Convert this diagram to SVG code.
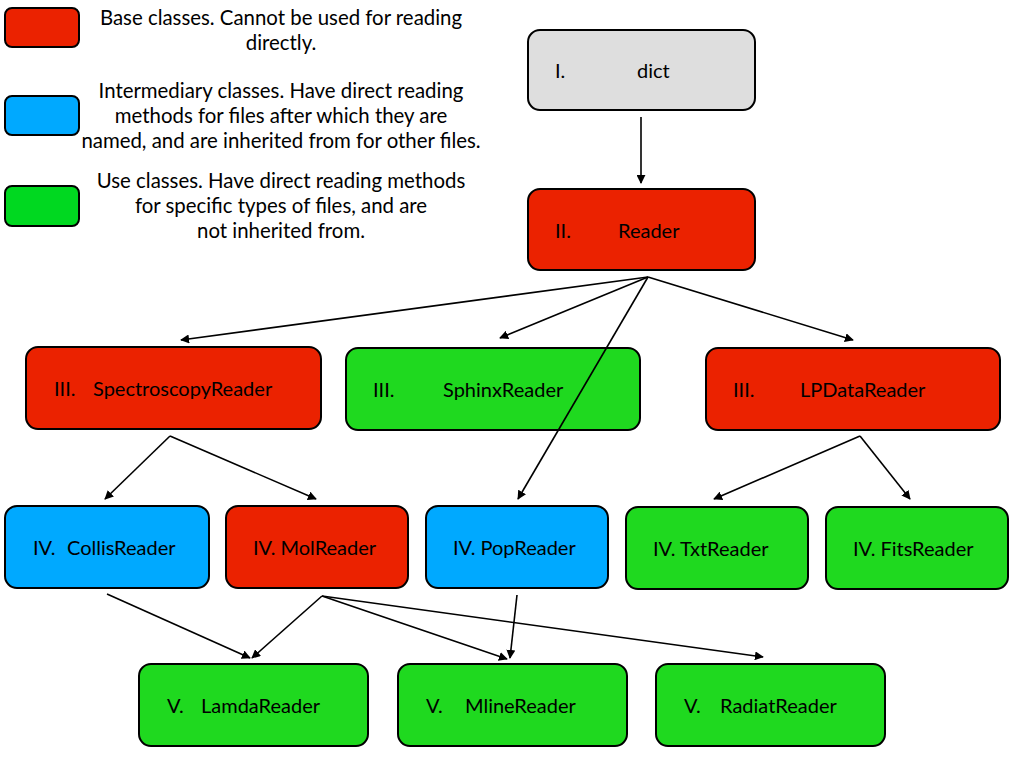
<svg xmlns="http://www.w3.org/2000/svg" width="1024" height="768" viewBox="0 0 1024 768">
<defs>
<style>
text{font-family:"Lato","Open Sans","DejaVu Sans",sans-serif;font-size:20px;fill:#000}
.lg{text-anchor:middle;font-size:20.4px}
.box{stroke:#000;stroke-width:2}
.red{fill:#EB2200}
.blue{fill:#00A9FF}
.green{fill:#1FD91F}
.lgreen{fill:#00D820}
.gray{fill:#DEDEDE}
.conn line{stroke:#000;stroke-width:1.6;marker-end:url(#ah)}
</style>
<marker id="ah" viewBox="0 0 10 10" refX="9" refY="5" markerWidth="9" markerHeight="9" orient="auto" markerUnits="userSpaceOnUse">
<path d="M0,0 L10,5 L0,10 z" fill="#000"/>
</marker>
</defs>
<rect width="1024" height="768" fill="#fff"/>
<g id="legend">
<rect class="box red" x="5" y="8" width="74" height="39" rx="7"/>
<rect class="box blue" x="5" y="96" width="74" height="39" rx="7"/>
<rect class="box lgreen" x="5" y="186" width="74" height="40" rx="7"/>
<text class="lg" x="281" y="25">Base classes. Cannot be used for reading</text>
<text class="lg" x="281" y="50">directly.</text>
<text class="lg" x="281" y="98">Intermediary classes. Have direct reading</text>
<text class="lg" x="281" y="123">methods for files after which they are</text>
<text class="lg" x="281" y="148">named, and are inherited from for other files.</text>
<text class="lg" x="281" y="188">Use classes. Have direct reading methods</text>
<text class="lg" x="281" y="213">for specific types of files, and are</text>
<text class="lg" x="281" y="238">not inherited from.</text>
</g>
<g id="n-dict"><rect class="box gray" x="528" y="30" width="227" height="80" rx="12"/><text x="555" y="78">I.</text><text x="637" y="78">dict</text></g>
<g id="n-reader"><rect class="box red" x="528" y="189" width="227" height="81" rx="12"/><text x="555" y="238">II.</text><text x="618" y="238">Reader</text></g>
<g id="n-spectroscopy"><rect class="box red" x="26" y="347" width="295" height="82" rx="12"/><text x="54" y="396">III.</text><text x="93" y="396">SpectroscopyReader</text></g>
<g id="n-sphinx"><rect class="box green" x="346" y="348" width="294" height="82" rx="12"/><text x="373" y="397">III.</text><text x="443" y="397">SphinxReader</text></g>
<g id="n-lpdata"><rect class="box red" x="706" y="348" width="294" height="82" rx="12"/><text x="733" y="397">III.</text><text x="800" y="397">LPDataReader</text></g>
<g id="n-collis"><rect class="box blue" x="5" y="506" width="204" height="82" rx="12"/><text x="33" y="555">IV.</text><text x="67" y="555">CollisReader</text></g>
<g id="n-mol"><rect class="box red" x="226" y="506" width="182" height="82" rx="12"/><text x="253" y="555">IV. MolReader</text></g>
<g id="n-pop"><rect class="box blue" x="426" y="506" width="182" height="82" rx="12"/><text x="453" y="555">IV. PopReader</text></g>
<g id="n-txt"><rect class="box green" x="626" y="507" width="182" height="82" rx="12"/><text x="653" y="556">IV. TxtReader</text></g>
<g id="n-fits"><rect class="box green" x="826" y="507" width="182" height="82" rx="12"/><text x="853" y="556">IV. FitsReader</text></g>
<g id="n-lamda"><rect class="box green" x="139" y="664" width="229" height="82" rx="12"/><text x="167" y="713">V.</text><text x="201" y="713">LamdaReader</text></g>
<g id="n-mline"><rect class="box green" x="398" y="664" width="229" height="82" rx="12"/><text x="426" y="713">V.</text><text x="465" y="713">MlineReader</text></g>
<g id="n-radiat"><rect class="box green" x="656" y="664" width="229" height="82" rx="12"/><text x="684" y="713">V.</text><text x="720" y="713">RadiatReader</text></g>
<g id="connectors" class="conn">
<line x1="641" y1="117" x2="641" y2="183"/>
<line x1="648" y1="277" x2="181" y2="340"/>
<line x1="648" y1="277" x2="500" y2="338"/>
<line x1="648" y1="277" x2="853" y2="340"/>
<line x1="648" y1="277" x2="518" y2="499"/>
<line x1="170" y1="436" x2="105" y2="499"/>
<line x1="170" y1="436" x2="316" y2="499"/>
<line x1="860" y1="436" x2="714" y2="499"/>
<line x1="860" y1="436" x2="910" y2="499"/>
<line x1="107" y1="594" x2="250" y2="658"/>
<line x1="322" y1="596" x2="252" y2="658"/>
<line x1="322" y1="596" x2="507" y2="659"/>
<line x1="322" y1="596" x2="763" y2="657"/>
<line x1="517" y1="595" x2="510" y2="658"/>
</g>
</svg>
